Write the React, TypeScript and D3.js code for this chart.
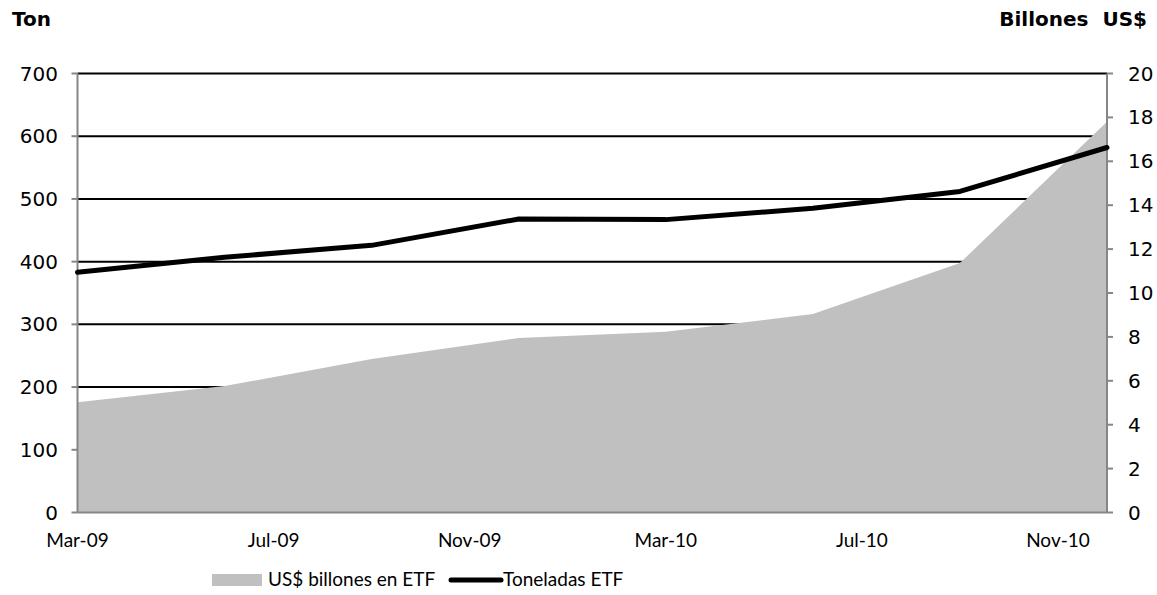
import React from "react";
import * as d3 from "d3";

const dates = ["2009-03", "2009-06", "2009-09", "2009-12", "2010-03", "2010-06", "2010-09", "2010-12"];
const tonValues = [383, 407, 426, 468, 467, 485, 512, 582];
const usdValues = [5.02, 5.76, 6.99, 7.95, 8.24, 9.04, 11.37, 17.8];
const xTickDates = ["2009-03", "2009-07", "2009-11", "2010-03", "2010-07", "2010-11"];
const leftTicks = [0, 100, 200, 300, 400, 500, 600, 700];
const rightTicks = [0, 2, 4, 6, 8, 10, 12, 14, 16, 18, 20];

const W = 1157;
const H = 595;
const L = 77.5, R = 1107, T = 73.5, B = 512.5;

const parse = d3.timeParse("%Y-%m");
const fmt = d3.timeFormat("%b-%y");

export default function App() {
  const x = d3.scaleTime().domain([parse(dates[0])!, parse(dates[dates.length - 1])!]).range([L, R]);
  const yL = d3.scaleLinear().domain([0, 700]).range([B, T]);
  const yR = d3.scaleLinear().domain([0, 20]).range([B, T]);
  // month-based positions (Excel date axis with monthly base)
  const m0 = parse(dates[0])!;
  const monthIdx = (s: string) => d3.timeMonth.count(m0, parse(s)!);
  const xm = d3.scaleLinear().domain([0, monthIdx(dates[dates.length - 1])]).range([L, R]);

  const area = d3
    .area<number>()
    .x((_, i) => xm(monthIdx(dates[i])))
    .y0(B)
    .y1((d) => yR(d));
  const line = d3
    .line<number>()
    .x((_, i) => xm(monthIdx(dates[i])))
    .y((d) => yL(d));

  const numFont = "'DejaVu Sans', Verdana, sans-serif";
  const catFont = "Lato, Carlito, sans-serif";
  void x;

  return (
    <svg width={W} height={H} style={{ position: "absolute", left: 0, top: 0, background: "#fff" }}>
      <rect x={0} y={0} width={W} height={H} fill="#fff" />
      <text x={12} y={26} fontFamily={numFont} fontWeight="bold" fontSize={20} fill="#000">Ton</text>
      <text x={1147} y={26} fontFamily={numFont} fontWeight="bold" fontSize={20} fill="#000" textAnchor="end" style={{ whiteSpace: "pre" }}>
        {"Billones  US$"}
      </text>
      {leftTicks.filter((t) => t > 0).map((t) => (
        <line key={"g" + t} x1={L} x2={R} y1={yL(t)} y2={yL(t)} stroke="#000" strokeWidth={2} />
      ))}
      <path d={area(usdValues) || ""} fill="#c0c0c0" />
      <line x1={L} x2={L} y1={T} y2={B} stroke="#868686" strokeWidth={2} />
      <line x1={R} x2={R} y1={T} y2={B} stroke="#868686" strokeWidth={2} />
      <line x1={L} x2={R} y1={B} y2={B} stroke="#868686" strokeWidth={2} />
      {leftTicks.map((t) => (
        <g key={"l" + t}>
          <line x1={L - 6} x2={L} y1={yL(t)} y2={yL(t)} stroke="#868686" strokeWidth={2} />
          <text x={58} y={yL(t) + 7} textAnchor="end" fontFamily={numFont} fontSize={20} fill="#000">{t}</text>
        </g>
      ))}
      {rightTicks.map((t) => (
        <g key={"r" + t}>
          <line x1={R} x2={R + 6} y1={yR(t)} y2={yR(t)} stroke="#868686" strokeWidth={2} />
          <text x={1128} y={yR(t) + 7} textAnchor="start" fontFamily={numFont} fontSize={20} fill="#000">{t}</text>
        </g>
      ))}
      {xTickDates.map((d) => (
        <text key={d} x={xm(monthIdx(d))} y={547} textAnchor="middle" fontFamily={catFont} fontSize={19} fill="#000">
          {fmt(parse(d)!)}
        </text>
      ))}
      <path d={line(tonValues) || ""} fill="none" stroke="#000" strokeWidth={5} strokeLinejoin="round" strokeLinecap="round" />
      <rect x={212} y={574} width={50} height={12} fill="#c0c0c0" />
      <text x={268} y={586} fontFamily={catFont} fontSize={19} fill="#000">US$ billones en ETF</text>
      <line x1={451} x2={501} y1={580} y2={580} stroke="#000" strokeWidth={5} strokeLinecap="round" />
      <text x={503} y={586} fontFamily={catFont} fontSize={19} fill="#000">Toneladas ETF</text>
    </svg>
  );
}
